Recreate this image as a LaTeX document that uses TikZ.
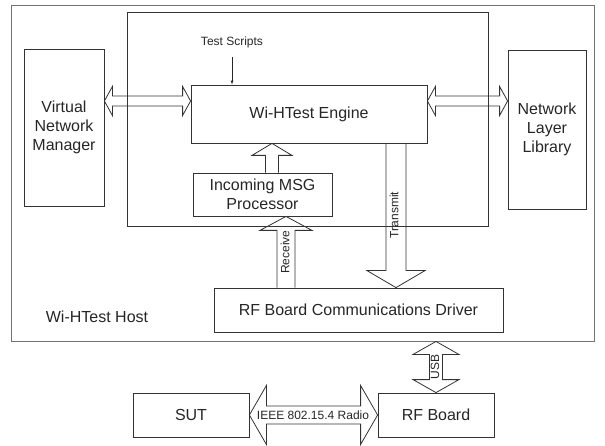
\documentclass[tikz,border=0pt]{standalone}
\usepackage{fontspec}
\setmainfont{Liberation Sans}
\usepackage{tikz}
\usetikzlibrary{arrows}
\usetikzlibrary{calc}
\tikzset{blk/.style={draw=black!80, line width=.8pt, inner sep=0pt, align=center, text=black!85, font=\fontsize{16}{19}\selectfont}}
\tikzset{fat/.style={draw=black!80, line width=.8pt, line join=miter}}
\tikzset{lbl/.style={inner sep=1pt, text=black!85, font=\fontsize{12}{14}\selectfont}}
% hollow block arrow: tail, tip, shaft half width, head half width, head length
\newcommand{\fatarrow}[5]{%
  \coordinate (fa-b) at ($(#2)!#5!(#1)$);
  \draw[fat] ($(#1)!#3!90:(#2)$) -- ($(fa-b)!#3!90:(#2)$) -- ($(fa-b)!#4!90:(#2)$) -- (#2)
    -- ($(fa-b)!#4!-90:(#2)$) -- ($(fa-b)!#3!-90:(#2)$) -- ($(#1)!#3!-90:(#2)$);
}
% same with a head on both ends
\newcommand{\fatdouble}[5]{%
  \coordinate (fd-a) at ($(#1)!#5!(#2)$);
  \coordinate (fd-b) at ($(#2)!#5!(#1)$);
  \draw[fat] (#1) -- ($(fd-a)!#4!90:(#2)$) -- ($(fd-a)!#3!90:(#2)$) -- ($(fd-b)!#3!90:(#2)$)
    -- ($(fd-b)!#4!90:(#2)$) -- (#2) -- ($(fd-b)!#4!-90:(#2)$) -- ($(fd-b)!#3!-90:(#2)$)
    -- ($(fd-a)!#3!-90:(#2)$) -- ($(fd-a)!#4!-90:(#2)$) -- cycle;
}

\begin{document}
\begin{tikzpicture}[x=1pt, y=-1pt]
\useasboundingbox (0,0) rectangle (605,446);
% frames
\node[draw=black!55, line width=.9pt, minimum width=583pt, minimum height=336pt, inner sep=0pt] (hostbox) at (302.5,173) {};
\node[draw=black!80, line width=.8pt, minimum width=361pt, minimum height=214pt, inner sep=0pt] (appbox) at (307.5,119) {};
\node[blk, draw=none] (host) at (97,317) {Wi-HTest Host};
% blocks
\node[blk, minimum width=80pt, minimum height=157pt] (vnm) at (64,127.5) {Virtual\\Network\\Manager};
\node[blk, minimum width=78pt, minimum height=159pt] (nll) at (547,129.5) {Network\\Layer\\Library};
\node[blk, minimum width=236pt, minimum height=58pt] (eng) at (309,114) {Wi-HTest Engine};
\node[blk, minimum width=139pt, minimum height=43pt] (msg) at (262.5,194.5) {Incoming MSG\\Processor};
\node[blk, minimum width=289pt, minimum height=44pt] (drv) at (358.5,310) {RF Board Communications Driver};
\node[blk, minimum width=116pt, minimum height=44pt] (sut) at (191,415) {SUT};
\node[blk, minimum width=116pt, minimum height=44pt] (rfb) at (436,415) {RF Board};
% scripts input
\node[lbl] (tsl) at (232,42) {Test Scripts};
\draw[black!85, ->, >=latex, shorten <=8pt] (tsl.south) -- (tsl.south |- eng.north);
% block arrows
\coordinate (ly) at (0,101);
\coordinate (up) at (272,0);
\coordinate (rx) at (286,0);
\coordinate (tx) at (396,0);
\fatdouble{vnm.east |- ly}{eng.west |- ly}{5pt}{14.5pt}{8pt}
\fatdouble{eng.east |- ly}{nll.west |- ly}{5pt}{14.5pt}{8pt}
\fatarrow{msg.north -| up}{eng.south -| up}{6.5pt}{20pt}{12pt}
\fatarrow{drv.north -| rx}{msg.south -| rx}{9pt}{26pt}{14pt}
\fatarrow{eng.south -| tx}{drv.north -| tx}{10pt}{29pt}{17pt}
\fatdouble{hostbox.south -| rfb.north}{rfb.north}{6.5pt}{23pt}{13pt}
\fatdouble{sut.east}{rfb.west}{9pt}{29.5pt}{17pt}
% arrow labels
\node[lbl, rotate=90] (rcvl) at (285,252) {Receive};
\node[lbl, rotate=90] (txl) at (394,215) {Transmit};
\node[lbl, rotate=90] (usbl) at (435,367) {USB};
\node[lbl] (radl) at (313,415) {IEEE 802.15.4 Radio};
\end{tikzpicture}
\end{document}
